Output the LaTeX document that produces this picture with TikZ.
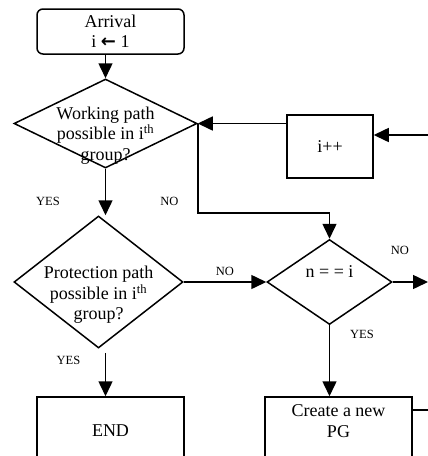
\documentclass[tikz,border=0pt]{standalone}
\usepackage{fontspec}
\setmainfont{Liberation Serif}
\newfontfamily\arrowfont{DejaVu Sans}
\usetikzlibrary{shapes.geometric,arrows.meta}
\begin{document}
\begin{tikzpicture}[x=1pt,y=-1pt,
  line width=1.5pt,
  every node/.style={font=\fontsize{18}{20.5}\selectfont},
  box/.style={draw, rectangle, inner sep=0pt, align=center, minimum width=147pt},
  decision/.style={draw, diamond, inner sep=0pt},
  lab/.style={font=\fontsize{12.5}{14}\selectfont, inner sep=0pt},
  arr/.style={-{Triangle[length=15pt,width=14pt]}}
]
\useasboundingbox (0,0) rectangle (428,456);
\clip (0,0) rectangle (428,456);

% nodes
\node[box, rounded corners=6pt, minimum height=45pt] (arrival) at (110.5,31.5) {Arrival\\i {\arrowfont\bfseries ←} 1};
\node[decision, minimum width=183pt, minimum height=89pt,
      label={[align=center, yshift=-12pt]center:Working path\\possible in i\textsuperscript{th}\\group?}] (d1) at (105.5,123.5) {};
\node[box, minimum width=86pt, minimum height=63pt] (ipp) at (330,146.5) {i++};
\node[decision, minimum width=169pt, minimum height=132pt,
      label={[align=center, yshift=-13pt]center:Protection path\\possible in i\textsuperscript{th}\\group?}] (d2) at (98.5,282) {};
\node[decision, minimum width=125pt, minimum height=85pt,
      label={[yshift=10pt]center:n = = i}] (d3) at (329.5,282) {};
\node[box, minimum height=68pt] (endbox) at (110.5,431) {END};
\node[box, minimum height=68pt,
      label={[align=center, yshift=10pt]center:Create a new\\PG}] (newpg) at (338.5,431) {};

% free ends at the picture edge
\coordinate (r1) at (428,135);
\coordinate (r2) at (428,282);
\coordinate (r3) at (428,410);

% connectors
\draw[arr] (arrival.south -| d1.north) -- (d1.north);
\draw[arr] (d1.south) -- (d1.south |- d2.north);
\draw[arr] (d1.east) |- ([yshift=26pt]d3.north) -- (d3.north);
\draw[arr] (ipp.west |- d1.east) -- (d1.east);
\draw[arr] (r1) -- (ipp.east |- r1);
\draw[arr] (d2.east) -- (d3.west);
\draw[arr] (d3.east) -- (r2);
\draw[arr] (d3.south) -- (d3.south |- newpg.north);
\draw[arr] ([yshift=-4pt]d2.south -| d1.south) -- (d1.south |- endbox.north);
\draw (newpg.east |- r3) -- (r3);

% labels
\node[lab] (yes1) at (48,201) {YES};
\node[lab] (no1) at (169.5,201) {NO};
\node[lab] (no2) at (225,271) {NO};
\node[lab] (no3) at (400,250) {NO};
\node[lab] (yes2) at (362,334) {YES};
\node[lab] (yes3) at (68.5,360) {YES};
\end{tikzpicture}
\end{document}
